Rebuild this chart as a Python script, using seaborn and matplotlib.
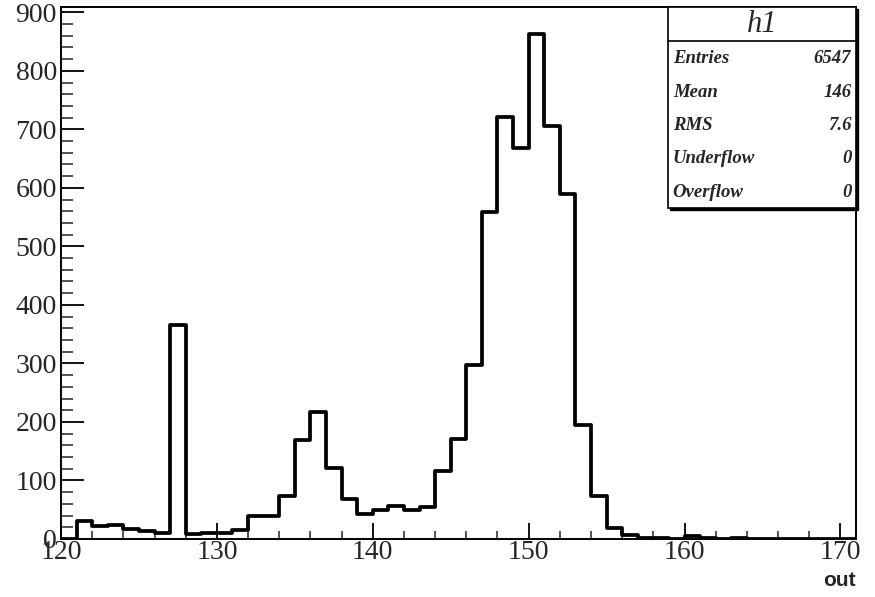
import numpy as np
import pandas as pd
import seaborn as sns
import matplotlib.pyplot as plt
from matplotlib.patches import Rectangle
from matplotlib.ticker import MultipleLocator

# conteudo dos bins (largura 1, de 120 a 171)
bordas = list(range(120, 172))
contagens = [0, 31, 22, 24, 17, 13, 11, 365, 8, 10,
             11, 15, 40, 40, 74, 169, 217, 122, 69, 42,
             50, 57, 49, 55, 117, 170, 297, 558, 721, 668,
             863, 706, 590, 195, 74, 18, 6, 2, 1, 0,
             5, 1, 0, 1, 0, 0, 0, 0, 0, 0, 0]

# caixa de estatisticas
nome_hist = 'h1'
rotulos_stats = ['Entries', 'Mean', 'RMS', 'Underflow', 'Overflow']
valores_stats = ['6547', '146', '7.6', '0', '0']

dados = pd.DataFrame({'out': np.array(bordas[:-1]) + 0.5, 'n': contagens})

sns.set_style('ticks')
plt.rcParams['font.family'] = ['Liberation Serif', 'DejaVu Serif']

fig = plt.figure(figsize=(8.75, 5.97), dpi=100)
ax = fig.add_axes([0.0697, 0.0972, 0.9086, 0.891])

sns.histplot(data=dados, x='out', weights='n', bins=bordas, element='step',
             fill=False, color='black', linewidth=2.7, ax=ax)

ax.set_xlim(120, 171)
ax.set_ylim(0, 909)
ax.xaxis.set_major_locator(MultipleLocator(10))
ax.xaxis.set_minor_locator(MultipleLocator(2))
ax.yaxis.set_major_locator(MultipleLocator(100))
ax.yaxis.set_minor_locator(MultipleLocator(20))

ax.tick_params(axis='x', which='major', direction='in', length=11.5, width=1.3,
               labelsize=20, pad=1, color='black')
ax.tick_params(axis='x', which='minor', direction='in', length=5.8, width=1.1)
ax.tick_params(axis='y', which='major', direction='in', length=16.5, width=1.3,
               labelsize=20, pad=3, color='black')
ax.tick_params(axis='y', which='minor', direction='in', length=8.6, width=1.1)

for lado in ['left', 'bottom', 'right', 'top']:
    ax.spines[lado].set_visible(True)
    ax.spines[lado].set_linewidth(1.4)
    ax.spines[lado].set_color('black')

ax.set_ylabel('')
ax.set_xlabel('out', loc='right', fontsize=15, fontweight='bold',
              family='Liberation Sans', labelpad=4)

# caixa de estatisticas estilo ROOT
x0, y0, larg, alt = 0.7635, 0.622, 0.2365, 0.378
ax.add_patch(Rectangle((x0 + 0.002, y0 - 0.004), larg, alt, transform=ax.transAxes,
                       facecolor='black', edgecolor='black', clip_on=False, zorder=5))
ax.add_patch(Rectangle((x0, y0), larg, alt, transform=ax.transAxes,
                       facecolor='white', edgecolor='black', linewidth=1.2,
                       clip_on=False, zorder=6))
ax.plot([x0, x0 + larg], [0.936, 0.936], transform=ax.transAxes, color='black',
        linewidth=1.2, zorder=7, clip_on=False)
ax.text(x0 + larg / 2, 0.968, nome_hist, transform=ax.transAxes, ha='center',
        va='center', fontsize=22, style='italic', zorder=8)

linhas_y = [0.904, 0.840, 0.778, 0.716, 0.652]
for rot, val, yy in zip(rotulos_stats, valores_stats, linhas_y):
    ax.text(x0 + 0.006, yy, rot, transform=ax.transAxes, ha='left', va='center',
            fontsize=13.5, style='italic', fontweight='bold', zorder=8)
    ax.text(x0 + larg - 0.006, yy, val, transform=ax.transAxes, ha='right',
            va='center', fontsize=13.5, style='italic', fontweight='bold', zorder=8)

fig.savefig('out.png', dpi=100)
